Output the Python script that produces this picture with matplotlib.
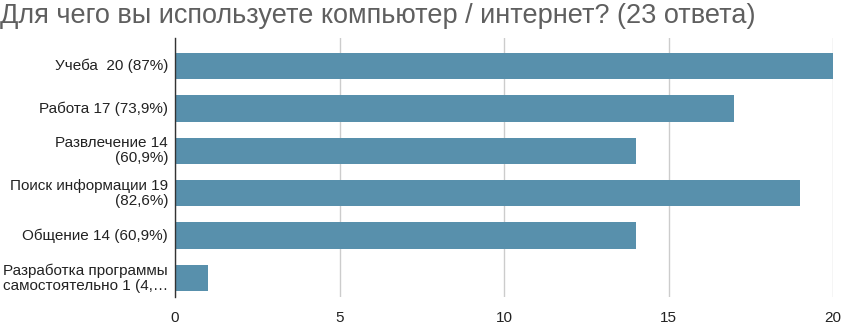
import matplotlib
matplotlib.use("Agg")
import matplotlib.pyplot as plt
import matplotlib.transforms as mtransforms

plt.rcParams['font.family'] = ['Liberation Sans', 'DejaVu Sans']

categories = [
    "Учеба  20 (87%)",
    "Работа 17 (73,9%)",
    "Развлечение 14\n(60,9%)",
    "Поиск информации 19\n(82,6%)",
    "Общение 14 (60,9%)",
    "Разработка программы\nсамостоятельно 1 (4,…",
]
values = [20, 17, 14, 19, 14, 1]
xticks = [0, 5, 10, 15, 20]
title = "Для чего вы используете компьютер / интернет? (23 ответа)"

fig = plt.figure(figsize=(8.42, 3.26), dpi=100)
ax = fig.add_axes([175/842, 1-297/326, (833-175)/842, (297-38)/326])
pos = list(range(len(categories)))
ax.barh(pos, values, height=0.62, color='#5890ac', zorder=3)
ax.set_ylim(5.45, -0.66)
ax.set_xlim(0, 20)
ax.set_xticks(xticks)
ax.set_yticks(pos)
ax.set_yticklabels([])
trans = ax.get_yaxis_transform() + mtransforms.ScaledTranslation(-7/100, 0, fig.dpi_scale_trans)
for p, lab in zip(pos, categories):
    ax.text(0, p, lab, transform=trans, ha='right', va='center', multialignment='right',
            fontsize=11, color='#222222', linespacing=1.1)
ax.tick_params(axis='x', labelsize=11, colors='#222222', length=0, pad=10)
ax.tick_params(axis='y', length=0)
ax.grid(axis='x', color='#cccccc', linewidth=1, zorder=0)
for s in ['top', 'right', 'bottom']:
    ax.spines[s].set_visible(False)
ax.spines['left'].set_color('#333333')
ax.spines['left'].set_linewidth(1)
ax.spines['left'].set_zorder(4)
fig.text(0.0, 1-16/326, title, fontsize=19.5, color='#5f5f5f', va='center', ha='left')
fig.savefig("out.png", dpi=100)
